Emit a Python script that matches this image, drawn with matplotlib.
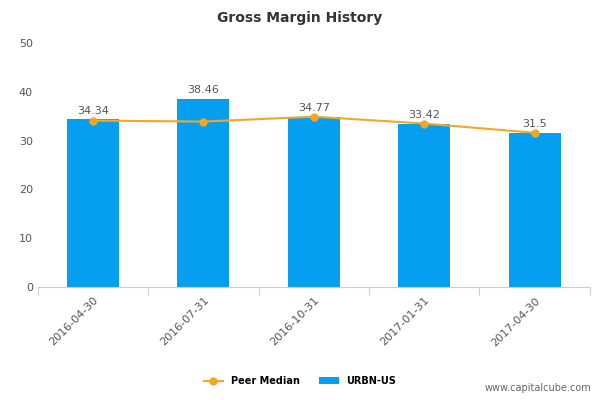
import matplotlib
matplotlib.use("Agg")
import matplotlib.pyplot as plt

categories = ["2016-04-30", "2016-07-31", "2016-10-31", "2017-01-31", "2017-04-30"]
urbn = [34.34, 38.46, 34.77, 33.42, 31.5]
urbn_labels = ["34.34", "38.46", "34.77", "33.42", "31.5"]
peer = [34.1, 33.9, 34.9, 33.5, 31.6]

fig = plt.figure(figsize=(6, 4), dpi=100)
ax = fig.add_axes([0.063, 0.2825, 0.92, 0.61])
x = list(range(len(categories)))
ax.bar(x, urbn, width=0.47, color="#069ff0", zorder=2, label="URBN-US")
ax.plot(x, peer, color="#f5a623", marker="o", markersize=5, lw=1.5, zorder=3, label="Peer Median")
for xi, v, t in zip(x, urbn, urbn_labels):
    ax.text(xi, v + 0.8, t, ha="center", va="bottom", fontsize=8, color="#555555", zorder=4)
ax.set_xlim(-0.5, len(categories) - 0.5)
ax.set_ylim(0, 50)
ax.set_yticks([0, 10, 20, 30, 40, 50])
ax.tick_params(axis="y", length=0, labelsize=8, labelcolor="#555555")
ax.set_xticks([i - 0.5 for i in range(len(categories) + 1)], minor=False)
ax.set_xticklabels([""] * (len(categories) + 1))
ax.set_xticks(x, minor=True)
ax.set_xticklabels(categories, minor=True, rotation=45, ha="right", rotation_mode="anchor", fontsize=8, color="#555555")
ax.tick_params(axis="x", which="minor", length=0, pad=6)
ax.tick_params(axis="x", which="major", length=6, color="#c0d0e0")
for s in ["top", "right", "left"]:
    ax.spines[s].set_visible(False)
ax.spines["bottom"].set_color("#c0d0e0")
fig.text(0.5, 0.955, "Gross Margin History", ha="center", va="center", fontsize=10, fontweight="bold", color="#333333")
fig.legend(loc="center", bbox_to_anchor=(0.5, 0.047), ncol=2, frameon=False, fontsize=7, prop={"weight": "bold", "size": 7})
fig.text(0.985, 0.03, "www.capitalcube.com", ha="right", va="center", fontsize=7, color="#666666")
fig.savefig("out.png", dpi=100)
